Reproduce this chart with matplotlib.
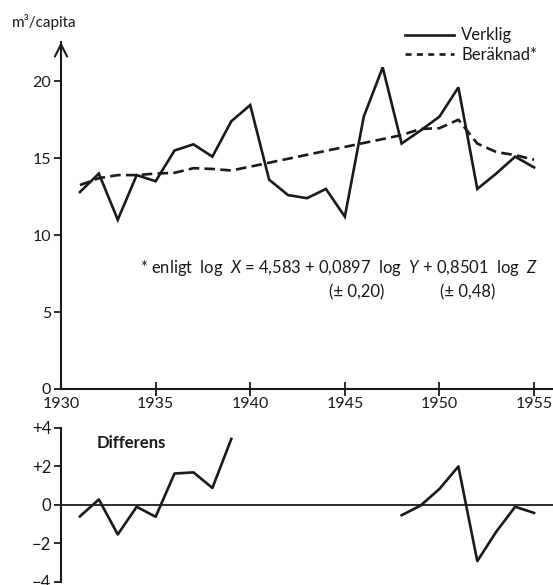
import matplotlib
matplotlib.use("Agg")
import matplotlib.pyplot as plt
import numpy as np
from matplotlib.lines import Line2D

plt.rcParams['font.family'] = ['Lato', 'DejaVu Sans']
plt.rcParams['mathtext.fontset'] = 'custom'
plt.rcParams['mathtext.it'] = 'Lato:italic'
plt.rcParams['mathtext.rm'] = 'Lato'

# --- data ---
years = [1931, 1932, 1933, 1934, 1935, 1936, 1937, 1938, 1939, 1940,
         1941, 1942, 1943, 1944, 1945, 1946, 1947, 1948, 1949, 1950,
         1951, 1952, 1953, 1954, 1955]
verklig = [12.8, 14.0, 11.0, 13.9, 13.5, 15.5, 15.9, 15.1, 17.4, 18.45,
           13.6, 12.6, 12.4, 13.0, 11.2, 17.7, 20.9, 15.95, 16.8, 17.7,
           19.6, 13.0, 14.0, 15.1, 14.4]
ber_years = [1931, 1932, 1933, 1934, 1935, 1936, 1937, 1938, 1939, 1940,
             1948, 1949, 1950, 1951, 1952, 1953, 1954, 1955]
beraknad = [13.25, 13.7, 13.9, 13.9, 14.0, 14.05, 14.35, 14.3, 14.2, 14.45,
            16.5, 16.9, 16.95, 17.5, 15.95, 15.4, 15.2, 14.9]
diff = [-0.6, 0.28, -1.54, -0.1, -0.62, 1.63, 1.69, 0.88, 3.43, np.nan,
        np.nan, np.nan, np.nan, np.nan, np.nan, np.nan, np.nan, -0.54, -0.04, 0.83,
        2.0, -2.93, -1.4, -0.1, -0.42]
x_ticks = [1930, 1935, 1940, 1945, 1950, 1955]
y_ticks_top = [0, 5, 10, 15, 20]
y_ticks_bot = [-4, -2, 0, 2, 4]
y_ticklabels_bot = ['\u22124', '\u22122', '0', '+2', '+4']
labels = ['Verklig', 'Beräknad*']

INK = '#1a1a1a'
W, H = 553, 585
fig = plt.figure(figsize=(W / 100, H / 100), dpi=100)

L = 61 / W
Wd = (553 - 61) / W
ax = fig.add_axes([L, 1 - 389 / H, Wd, (389 - 42) / H])
ax2 = fig.add_axes([L, 1 - 581.7 / H, Wd, (581.7 - 428) / H])

lw = 1.9
ax.plot(years, verklig, color=INK, lw=lw, solid_joinstyle='miter')
ax.plot(ber_years, beraknad, color=INK, lw=lw, dashes=(4, 2))

ax.set_xlim(1930, 1956)
ax.set_ylim(0, 22.55)
for s in ['top', 'right']:
    ax.spines[s].set_visible(False)
for s in ['left', 'bottom']:
    ax.spines[s].set_linewidth(1.5)
    ax.spines[s].set_color(INK)
ax.set_xticks(x_ticks)
ax.set_xticklabels([str(v) for v in x_ticks])
ax.set_yticks(y_ticks_top)
ax.tick_params(axis='x', direction='inout', length=10, width=1.3, labelsize=11.5, pad=1, colors=INK)
ax.tick_params(axis='y', direction='out', length=5, width=1.3, labelsize=11.5, pad=2, colors=INK)
ax.xaxis.get_major_ticks()[0].tick1line.set_visible(False)

# arrow on y axis
ax.annotate('', xy=(0, 1.0), xytext=(0, 0.95), xycoords='axes fraction',
            arrowprops=dict(arrowstyle='->', lw=1.5, color=INK, mutation_scale=22,
                            shrinkA=0, shrinkB=0))

fig.text(12 / W, 1 - 22 / H, 'm³/capita', fontsize=11, ha='left', va='center', color=INK)

# legend
handles = [Line2D([], [], color=INK, lw=lw),
           Line2D([], [], color=INK, lw=lw, dashes=(2.3, 2))]
leg = fig.legend(handles, labels, loc='upper left', bbox_to_anchor=(397 / W, 1 - 19 / H),
                 frameon=False, fontsize=12, handlelength=2.9, handletextpad=0.45,
                 labelspacing=0.2, borderpad=0)
for t in leg.get_texts():
    t.set_color(INK)

# formula annotation, fitted to span the same width as in the reference
formula = fig.text(140 / W, 1 - 268 / H,
                   r'* enligt  log  $X$ = 4,583 + 0,0897  log  $Y$ + 0,8501  log  $Z$',
                   fontsize=12, ha='left', va='center', color=INK)
r = fig.canvas.get_renderer()
wpx = formula.get_window_extent(r).width
formula.set_fontsize(12 * (537 - 140) / wpx)
fig.text(357 / W, 1 - 292 / H, '(± 0,20)', fontsize=12, ha='center', va='center', color=INK)
fig.text(468 / W, 1 - 292 / H, '(± 0,48)', fontsize=12, ha='center', va='center', color=INK)

# bottom panel
ax2.plot(years, diff, color=INK, lw=lw)
ax2.axhline(0, color=INK, lw=1.3)
ax2.set_xlim(1930, 1956)
ax2.set_ylim(-4, 4)
for s in ['top', 'right', 'bottom']:
    ax2.spines[s].set_visible(False)
ax2.spines['left'].set_linewidth(1.5)
ax2.spines['left'].set_color(INK)
ax2.set_xticks([])
ax2.set_yticks(y_ticks_bot)
ax2.set_yticklabels(y_ticklabels_bot)
ax2.tick_params(axis='y', direction='out', length=5, width=1.3, labelsize=12, pad=2, colors=INK)
ax2.text(97 / W, 1 - 443 / H, 'Differens', transform=fig.transFigure, fontsize=12,
         fontweight='bold', ha='left', va='center', color=INK)

fig.savefig('out.png', dpi=100)
